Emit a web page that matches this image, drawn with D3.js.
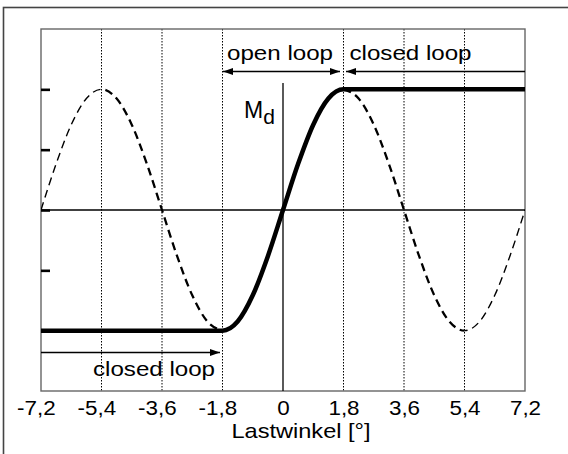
<!DOCTYPE html>
<html>
<head>
<meta charset="utf-8">
<script src="https://cdn.jsdelivr.net/npm/d3@7"></script>
<style>
  body { margin: 0; background: #fff; }
  text { font-family: "Liberation Sans", Arial, sans-serif; fill: #000; }
</style>
</head>
<body>
<div id="chart"></div>
<script>
// x ticks (Lastwinkel in degrees) and y ticks
var xTicks = [-7.2, -5.4, -3.6, -1.8, 0, 1.8, 3.6, 5.4, 7.2];
var gridX = [-5.4, -3.6, -1.8, 1.8, 3.6, 5.4];
var yTicks = [-2, -1, 0, 1, 2];

// thick curve M_d (flat - rising - flat)
var mdX = [-7.2, -1.8, -1.35, -0.9, -0.45, 0, 0.45, 0.9, 1.35, 1.8, 7.2];
var mdY = [-2, -2, -1.848, -1.414, -0.765, 0, 0.765, 1.414, 1.848, 2, 2];

// dashed curve, left branch and right branch
var dashLeftX = [-7.2, -6.75, -6.3, -5.85, -5.4, -4.95, -4.5, -4.05, -3.6, -3.15, -2.7, -2.25, -1.8];
var dashLeftY = [0, 0.765, 1.414, 1.848, 2, 1.848, 1.414, 0.765, 0, -0.765, -1.414, -1.848, -2];
var dashRightX = [1.8, 2.25, 2.7, 3.15, 3.6, 4.05, 4.5, 4.95, 5.4, 5.85, 6.3, 6.75, 7.2];
var dashRightY = [2, 1.848, 1.414, 0.765, 0, -0.765, -1.414, -1.848, -2, -1.848, -1.414, -0.765, 0];

function init(){
    var w = 568, h = 454;
    var left = 41, top = 29, right = 525, bottom = 391;
    var sx = 1.15; // glyphs are drawn a bit wider in the original

    var svg = d3.select("#chart").append("svg")
        .attr("width", w)
        .attr("height", h);

    // outer frame (only top and left edge visible)
    svg.append("rect")
        .attr("x", 3.5).attr("y", 7.5)
        .attr("width", 600).attr("height", 500)
        .attr("fill", "none")
        .attr("stroke", "#444")
        .attr("stroke-width", 1.6);

    var x = d3.scaleLinear().domain([-7.2, 7.2]).range([left, right]);
    var y = d3.scaleLinear().domain([-3, 3]).range([bottom, top]);

    // clip paths for thin / thick dash parts
    var defs = svg.append("defs");
    defs.append("clipPath").attr("id", "inner")
        .append("rect")
        .attr("x", x(-5.4)).attr("y", top)
        .attr("width", x(5.4) - x(-5.4)).attr("height", bottom - top);
    var outer = defs.append("clipPath").attr("id", "outer");
    outer.append("rect")
        .attr("x", left).attr("y", top)
        .attr("width", x(-5.4) - left).attr("height", bottom - top);
    outer.append("rect")
        .attr("x", x(5.4)).attr("y", top)
        .attr("width", right - x(5.4)).attr("height", bottom - top);

    defs.append("marker")
        .attr("id", "arrow")
        .attr("viewBox", "0 -4 10 8")
        .attr("refX", 10).attr("refY", 0)
        .attr("markerUnits", "userSpaceOnUse")
        .attr("markerWidth", 10).attr("markerHeight", 8)
        .attr("orient", "auto-start-reverse")
        .append("path")
        .attr("d", "M0,-3.5L10,0L0,3.5Z")
        .attr("fill", "#000");

    // dotted grid lines
    svg.selectAll(".grid")
        .data(gridX)
        .enter()
        .append("line")
        .attr("class", "grid")
        .attr("x1", d => x(d)).attr("x2", d => x(d))
        .attr("y1", top).attr("y2", bottom)
        .attr("stroke", "#000")
        .attr("stroke-width", 1)
        .attr("stroke-dasharray", "1.5,1.5");

    // plot frame
    svg.append("rect")
        .attr("x", left).attr("y", top)
        .attr("width", right - left).attr("height", bottom - top)
        .attr("fill", "none")
        .attr("stroke", "#666")
        .attr("stroke-width", 1.4);

    // zero line and M_d axis
    svg.append("line")
        .attr("x1", left).attr("x2", right)
        .attr("y1", y(0)).attr("y2", y(0))
        .attr("stroke", "#000").attr("stroke-width", 1.3);
    svg.append("line")
        .attr("x1", x(0)).attr("x2", x(0))
        .attr("y1", 83).attr("y2", bottom)
        .attr("stroke", "#000").attr("stroke-width", 1.3);

    // y ticks (short thick marks inside)
    var yAxis = svg.append("g")
        .attr("transform", "translate(" + left + ",0)")
        .call(d3.axisRight(y).tickValues(yTicks).tickSize(9).tickFormat(""));
    yAxis.select(".domain").remove();
    yAxis.selectAll("line").attr("stroke", "#000").attr("stroke-width", 2.6);

    // x axis labels
    var fmt = d => String(d).replace(".", ",");
    var xAxis = svg.append("g")
        .attr("transform", "translate(0," + bottom + ")")
        .call(d3.axisBottom(x).tickValues(xTicks).tickSize(0).tickPadding(0).tickFormat(fmt));
    xAxis.select(".domain").remove();
    xAxis.selectAll("text")
        .attr("y", 24.5).attr("dy", null)
        .attr("x", d => d < 0 ? -4.5 : 0)
        .attr("transform", "scale(" + sx + ",1)")
        .style("font-family", "Liberation Sans, Arial, sans-serif")
        .style("font-size", "19.5px")
        .attr("fill", "#000");

    svg.append("text")
        .attr("transform", "translate(" + 301 + ",438) scale(" + 1.18 + ",1)")
        .attr("text-anchor", "middle")
        .style("font-size", "20px")
        .text("Lastwinkel [°]");

    var line = d3.line()
        .x(d => x(d[0]))
        .y(d => y(d[1]))
        .curve(d3.curveMonotoneX);

    // dashed branches: thick in the middle, thin near the edges
    [[dashLeftX, dashLeftY], [dashRightX, dashRightY]].forEach(function(s){
        var pts = d3.zip(s[0], s[1]);
        svg.append("path")
            .attr("d", line(pts))
            .attr("fill", "none")
            .attr("stroke", "#000")
            .attr("stroke-width", 2.3)
            .attr("stroke-dasharray", "8,5")
            .attr("clip-path", "url(#inner)");
        svg.append("path")
            .attr("d", line(pts))
            .attr("fill", "none")
            .attr("stroke", "#000")
            .attr("stroke-width", 1.4)
            .attr("stroke-dasharray", "8,5")
            .attr("clip-path", "url(#outer)");
    });

    // M_d curve
    svg.append("path")
        .attr("d", line(d3.zip(mdX, mdY)))
        .attr("fill", "none")
        .attr("stroke", "#000")
        .attr("stroke-width", 4.5)
        .attr("stroke-linejoin", "round");

    // arrows
    var topY = 71.5, botY = 352.5;
    svg.append("line")
        .attr("x1", x(-1.8) + 0.5).attr("x2", x(1.8) - 3.5)
        .attr("y1", topY).attr("y2", topY)
        .attr("stroke", "#000").attr("stroke-width", 1.6)
        .attr("marker-start", "url(#arrow)")
        .attr("marker-end", "url(#arrow)");
    svg.append("line")
        .attr("x1", right).attr("x2", x(1.8) + 2.5)
        .attr("y1", topY).attr("y2", topY)
        .attr("stroke", "#000").attr("stroke-width", 1.6)
        .attr("marker-end", "url(#arrow)");
    svg.append("line")
        .attr("x1", left).attr("x2", x(-1.8) - 2.5)
        .attr("y1", botY).attr("y2", botY)
        .attr("stroke", "#000").attr("stroke-width", 1.6)
        .attr("marker-end", "url(#arrow)");

    // annotation texts
    var notes = [
        {t: "open loop", cx: 280, by: 59.5},
        {t: "closed loop", cx: 410.5, by: 60},
        {t: "closed loop", cx: 154, by: 375.5}
    ];
    svg.selectAll(".note")
        .data(notes)
        .enter()
        .append("text")
        .attr("class", "note")
        .attr("transform", d => "translate(" + d.cx + "," + d.by + ") scale(" + sx + ",1)")
        .attr("text-anchor", "middle")
        .style("font-size", "21px")
        .text(d => d.t);

    // M_d label
    var md = svg.append("text")
        .attr("transform", "translate(244,117.5) scale(1.0,1)")
        .style("font-size", "23px");
    md.append("tspan").text("M");
    md.append("tspan").attr("dy", 6).style("font-size", "21px").text("d");
}
window.onload = init;
</script>
</body>
</html>
